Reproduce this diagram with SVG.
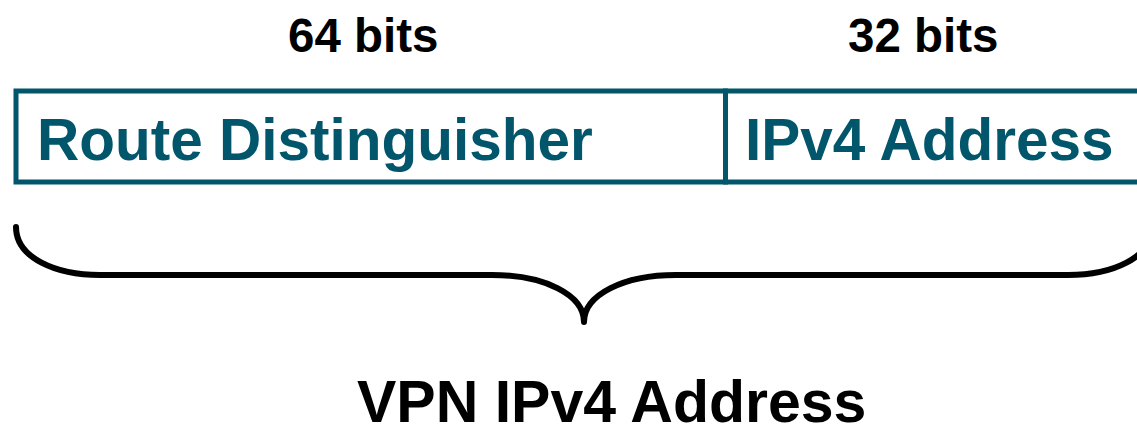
<svg xmlns="http://www.w3.org/2000/svg" width="1137" height="424" viewBox="0 0 1137 424">
  <style>
    .bits { font-family: "Liberation Sans", Arial, sans-serif; font-weight: bold; font-size: 47.5px; fill: #000; }
    .field { font-family: "Liberation Sans", Arial, sans-serif; font-weight: bold; font-size: 58.5px; fill: #01566b; }
    .frame { fill: #fff; stroke: #01566b; stroke-width: 5; }
    .brace { fill: none; stroke: #000; stroke-width: 6; stroke-linecap: round; stroke-linejoin: round; }
    .title { font-family: "Liberation Sans", Arial, sans-serif; font-weight: bold; font-size: 59px; fill: #000; }
  </style>
  <rect width="1137" height="424" fill="#fff"/>

  <!-- field widths -->
  <text class="bits" x="288" y="52">64 bits</text>
  <text class="bits" x="848" y="52">32 bits</text>

  <!-- address fields -->
  <g id="route-distinguisher">
    <rect class="frame" x="16" y="91" width="709.5" height="91"/>
    <text class="field" x="37" y="160">Route Distinguisher</text>
  </g>
  <g id="ipv4-address">
    <rect class="frame" x="725.5" y="91" width="430" height="91"/>
    <text class="field" x="745" y="160">IPv4 Address</text>
  </g>

  <!-- brace spanning both fields -->
  <g id="connectors">
    <path class="brace" d="M16,227 C16,258 56,275 100,275 L492,275 C545,275 584,295 584,322 C584,295 623,275 676,275 L1068,275 C1112,275 1152,258 1152,227"/>
  </g>

  <g id="vpn-ipv4-address">
    <text class="title" x="357" y="422">VPN IPv4 Address</text>
  </g>
</svg>
